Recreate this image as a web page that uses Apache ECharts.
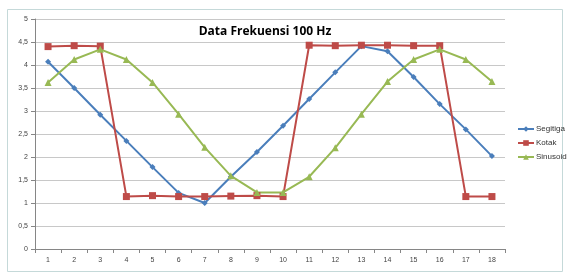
<!DOCTYPE html>
<html><head><meta charset="utf-8">
<script src="https://cdn.jsdelivr.net/npm/echarts@6/dist/echarts.min.js"></script>
<style>html,body{margin:0;padding:0;background:#fff}#c{width:568px;height:275px}</style>
</head><body><div id="c"></div>
<script>
const categories = ['1','2','3','4','5','6','7','8','9','10','11','12','13','14','15','16','17','18'];
const segitiga = [4.07,3.50,2.92,2.35,1.78,1.22,1.00,1.57,2.11,2.68,3.26,3.84,4.41,4.30,3.74,3.15,2.60,2.02];
const kotak = [4.40,4.42,4.41,1.14,1.16,1.14,1.14,1.15,1.16,1.14,4.43,4.42,4.43,4.43,4.42,4.42,1.14,1.14];
const sinusoid = [3.62,4.12,4.34,4.12,3.62,2.93,2.21,1.59,1.23,1.23,1.57,2.20,2.93,3.64,4.12,4.34,4.12,3.64];
const titleText = 'Data Frekuensi 100 Hz';

const chart = echarts.init(document.getElementById('c'), null, {renderer:'canvas'});
const font = 'Liberation Sans';
function line(name, data, color, symbol, size){
  return {name, type:'line', data, symbol, symbolSize:size,
    lineStyle:{color, width:2}, itemStyle:{color}, animation:false};
}
chart.setOption({
  animation:false,
  title:{text:titleText, left:265, top:26, padding:0, textAlign:'center',
    textStyle:{fontFamily:'Open Sans', fontWeight:'bold', fontSize:12, color:'#000'}},
  graphic:[{type:'rect', shape:{x:7.5,y:9.5,width:555,height:262}, style:{fill:'none', stroke:'#c5d9d9', lineWidth:1}, silent:true}],
  legend:{orient:'vertical', left:517, top:125, padding:0, itemWidth:16, itemHeight:7, itemGap:6,
    textStyle:{fontFamily:font, fontSize:8, color:'#333', padding:[0,0,0,-3]},
    data:['Segitiga','Kotak','Sinusoid']},
  grid:{left:35, right:63, top:19, bottom:26},
  xAxis:{type:'category', data:categories, boundaryGap:true,
    axisLine:{lineStyle:{color:'#868686'}},
    axisTick:{show:true, interval:0, length:4, lineStyle:{color:'#868686'}},
    axisLabel:{fontFamily:font, fontSize:7, color:'#444', margin:8, interval:0}},
  yAxis:{type:'value', min:0, max:5, interval:0.5,
    axisLine:{show:true, lineStyle:{color:'#868686'}},
    axisTick:{show:true, length:4, lineStyle:{color:'#868686'}},
    splitLine:{lineStyle:{color:'#c8c8c8'}},
    axisLabel:{fontFamily:font, fontSize:7, color:'#444', margin:7,
      formatter:v=>String(v).replace('.',',')}},
  series:[
    line('Segitiga', segitiga, '#4A7EBB', 'diamond', 6),
    line('Kotak', kotak, '#BE4B48', 'rect', 7),
    line('Sinusoid', sinusoid, '#98B954', 'triangle', 7)
  ]
});
</script></body></html>
